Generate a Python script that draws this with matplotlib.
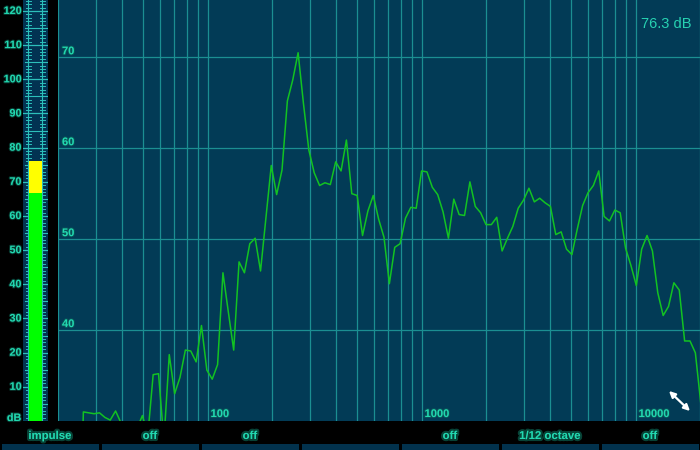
import numpy as np
import matplotlib
matplotlib.use("Agg")
import matplotlib.pyplot as plt
from matplotlib.patches import Rectangle
import matplotlib.patheffects as pe

# ---------------- data ----------------
# 1/12-octave analyzer bands, indexed relative to 1 kHz
band_index = np.arange(-68, 53)
freqs = 1000.0 * 2.0 ** (band_index / 12.0)
level_db = [
    8, 6, 10, 5, 9,                                   # k -68..-64 (below chart)
    31.0, 30.9, 30.8, 30.9, 30.4, 30.1, 31.1,         # -63..-57
    29.8, 27.0, 26.0, 29.2, 30.6, 28.4,               # -56..-51
    35.1, 35.2, 27.8, 37.3, 33.0, 34.8, 37.8, 37.7,   # -50..-43
    36.5, 40.5, 35.6, 34.6, 36.2, 46.3, 42.0, 37.8,   # -42..-35
    47.5, 46.3, 49.5, 50.1, 46.5, 52.3, 58.1, 54.9,   # -34..-27
    57.6, 65.2, 67.5, 70.5, 64.9, 59.8, 57.3, 55.9,   # -26..-19
    56.2, 56.0, 58.5, 57.5, 60.9, 55.0, 54.8, 50.4,   # -18..-11
    53.1, 54.8, 52.2, 50.2, 45.1, 49.1, 49.5, 52.3,   # -10..-3
    53.5, 53.4, 57.5, 57.4, 55.7, 54.9, 53.0, 50.1,   # -2..5
    54.4, 52.7, 52.6, 56.3, 53.6, 52.9, 51.6, 51.6,   # 6..13
    52.4, 48.7, 50.1, 51.4, 53.4, 54.3, 55.6, 54.1,   # 14..21
    54.5, 54.0, 53.6, 50.5, 50.8, 48.9, 48.3, 51.1,   # 22..29
    53.7, 55.1, 55.9, 57.5, 52.5, 52.0, 53.2, 52.9,   # 30..37
    49.0, 47.1, 44.9, 48.9, 50.4, 48.7, 44.1, 41.6,   # 38..45
    42.6, 45.2, 44.4, 38.8, 38.8, 37.5, 32.0,         # 46..52
]
peak_text = "76.3 dB"
meter_green_top = 66.7
meter_level = 76.0
meter_labels = [10, 20, 30, 40, 50, 60, 70, 80, 90, 100, 110, 120]
x_grid = [20, 30, 40, 50, 60, 70, 80, 90, 100, 200, 300, 400, 500, 600, 700,
          800, 900, 1000, 2000, 3000, 4000, 5000, 6000, 7000, 8000, 9000,
          10000, 20000]
x_labels = [100, 1000, 10000]
y_grid = [40, 50, 60, 70]
button_labels = ["impulse", "off", "off", "", "off", "1/12 octave", "off"]

# ---------------- style ----------------
BG = "#023b56"
GRID = "#1b8f92"
TXT = "#22d8b0"
LINE = "#12c222"
FONT = "Liberation Sans"
glow = [pe.withStroke(linewidth=3, foreground="#0e7a64", alpha=0.55)]
soft = [pe.withStroke(linewidth=1.5, foreground="#0e6a5a", alpha=0.5)]

W, H = 700, 450
fig = plt.figure(figsize=(7, 4.5), dpi=100, facecolor="black")

# full-figure pixel axes for decorations
bg = fig.add_axes([0, 0, 1, 1])
bg.set_xlim(0, W)
bg.set_ylim(H, 0)
bg.axis("off")
bg.set_facecolor("black")

# bottom buttons
for i, lab in enumerate(button_labels):
    x0 = i * 100
    bg.add_patch(Rectangle((x0 + 1.5, 444), 97.5, 7, color="#02324d", lw=0))
    if lab:
        bg.text(x0 + 50, 436, lab, color=TXT, fontsize=8.2, fontweight="bold",
                family=FONT, ha="center", va="center", path_effects=glow)

# ---------------- main plot ----------------
PL, PT, PR, PB = 58, 0, 700, 421
ax = fig.add_axes([PL / W, 1 - PB / H, (PR - PL) / W, (PB - PT) / H])
ax.set_facecolor(BG)
ax.set_xscale("log")
ax.set_xlim(20, 20000)
ax.set_ylim(30, 76.3)
for f in x_grid:
    ax.axvline(f, color=GRID, lw=0.9, zorder=1)
for v in y_grid:
    ax.axhline(v, color=GRID, lw=0.9, zorder=1)
ax.set_xticks([])
ax.set_yticks([])
ax.minorticks_off()
for s in ax.spines.values():
    s.set_visible(False)

ax.plot(freqs, level_db, color=LINE, lw=1.1, zorder=3, clip_on=True)

for f in x_labels:
    ax.annotate(str(f), xy=(f, 0), xycoords=("data", "axes fraction"),
                xytext=(3, 7), textcoords="offset pixels", ha="left", va="center",
                color=TXT, fontsize=8, fontweight="bold", family=FONT, zorder=4,
                path_effects=soft)
for v in y_grid:
    ax.annotate(str(v), xy=(0, v), xycoords=("axes fraction", "data"),
                xytext=(4, 6), textcoords="offset pixels", ha="left", va="center",
                color=TXT, fontsize=8, fontweight="bold", family=FONT, zorder=4,
                path_effects=soft)

ax.text(0.9875, 0.943, peak_text, transform=ax.transAxes, ha="right", va="center",
        color="#27d2b2", fontsize=10.5, family=FONT, zorder=4)

# resize arrow icon
ax.annotate("", xy=(669, 391), xytext=(690, 411), xycoords=bg.transData,
            textcoords=bg.transData,
            arrowprops=dict(arrowstyle="<|-|>", color="white", lw=1.6,
                            mutation_scale=9, shrinkA=0, shrinkB=0), zorder=5)

# ---------------- level meter ----------------
ML, MR = 23, 48
DBMAX = 421 / 3.417
m = fig.add_axes([ML / W, 1 - 421 / H, (MR - ML) / W, 421 / H])
m.set_facecolor("#023352")
m.set_xlim(ML, MR)
m.set_ylim(0, DBMAX)
m.axis("off")
m.add_patch(Rectangle((ML, 0), MR - ML, DBMAX, color="#023352", lw=0, zorder=0))
TICK = "#2cc0bb"
lx, rx = 28.0, 42.3
m.plot([lx, lx], [0, DBMAX], color=TICK, lw=0.8, zorder=1)
m.plot([rx, rx], [0, DBMAX], color=TICK, lw=0.8, zorder=1)
for d in range(0, 124):
    if d % 10 == 0:
        m.plot([ML, MR], [d, d], color=TICK, lw=0.9, zorder=1)
    elif d % 5 == 0:
        m.plot([ML + 1.5, MR - 1.5], [d, d], color=TICK, lw=0.8, zorder=1)
    else:
        m.plot([lx - 2.5, lx + 2.5], [d, d], color=TICK, lw=0.7, zorder=1)
        m.plot([rx - 2.5, rx + 2.5], [d, d], color=TICK, lw=0.7, zorder=1)
m.add_patch(Rectangle((29.3, 0), 12.5, meter_green_top, color="#00ff00", lw=0, zorder=3))
m.add_patch(Rectangle((29.3, meter_green_top), 12.5, meter_level - meter_green_top,
                      color="#ffff00", lw=0, zorder=3))

for v in meter_labels:
    bg.text(21.5, 421 - v * 3.417, str(v), color=TXT, fontsize=7.8, fontweight="bold",
            family=FONT, ha="right", va="center", path_effects=soft)
bg.text(21.5, 418, "dB", color=TXT, fontsize=7.8, fontweight="bold",
        family=FONT, ha="right", va="center", path_effects=soft)

fig.savefig("out.png", dpi=100, facecolor="black")
